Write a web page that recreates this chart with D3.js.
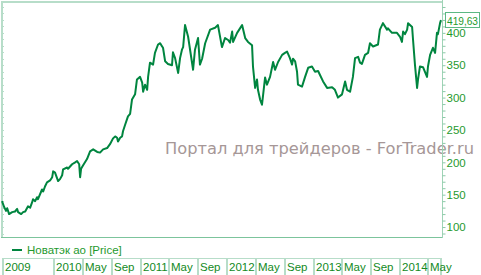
<!DOCTYPE html>
<html>
<head>
<meta charset="utf-8">
<script src="https://cdn.jsdelivr.net/npm/d3@7"></script>
<style>
  body { margin: 0; background: #fff; }
  svg { display: block; }
</style>
</head>
<body>
<div id="chart"></div>
<script>
// weekly-ish closes
const dates = [
  "2009-05-26","2009-06-04","2009-06-12","2009-06-17","2009-06-25","2009-07-08","2009-07-20","2009-07-29",
  "2009-08-02","2009-08-15","2009-08-23","2009-09-01","2009-09-13","2009-09-22","2009-09-30","2009-10-04",
  "2009-10-13","2009-10-21","2009-10-25","2009-11-11","2009-11-16","2009-11-24","2009-12-02","2009-12-15",
  "2009-12-24","2009-12-28","2010-01-05","2010-01-18","2010-01-26","2010-02-04","2010-02-08","2010-02-25",
  "2010-03-01","2010-03-18","2010-03-31","2010-04-08","2010-04-17","2010-04-21","2010-04-25","2010-05-03",
  "2010-05-20","2010-06-02","2010-06-15","2010-07-02","2010-07-14","2010-07-27","2010-08-13","2010-08-25",
  "2010-09-07","2010-09-16","2010-09-24","2010-09-28","2010-10-07","2010-10-15","2010-10-19","2010-10-28",
  "2010-11-09","2010-11-18","2010-11-26","2010-12-09","2010-12-17","2010-12-30","2011-01-08","2011-01-12",
  "2011-01-20","2011-01-29","2011-02-02","2011-02-10","2011-02-23","2011-03-03","2011-03-16","2011-03-25",
  "2011-04-02","2011-04-06","2011-04-15","2011-04-27","2011-05-14","2011-05-18","2011-05-27","2011-06-09",
  "2011-06-17","2011-06-25","2011-06-30","2011-07-08","2011-07-21","2011-08-11","2011-08-19","2011-09-01",
  "2011-09-09","2011-09-18","2011-10-01","2011-10-22","2011-11-12","2011-11-24","2011-12-11","2011-12-24",
  "2012-01-06","2012-01-14","2012-01-23","2012-01-27","2012-02-13","2012-03-05","2012-03-18","2012-03-30",
  "2012-04-16","2012-04-20","2012-04-29","2012-05-07","2012-05-11","2012-05-20","2012-05-28","2012-06-02",
  "2012-06-10","2012-06-18","2012-07-01","2012-07-14","2012-07-22","2012-08-04","2012-08-21","2012-09-02",
  "2012-09-11","2012-09-23","2012-10-02","2012-10-06","2012-10-15","2012-10-23","2012-10-27","2012-11-13",
  "2012-11-26","2012-12-09","2012-12-25","2013-01-07","2013-01-20","2013-01-28","2013-02-10","2013-02-27",
  "2013-03-20","2013-04-01","2013-04-14","2013-05-01","2013-05-14","2013-05-22","2013-06-04","2013-06-16",
  "2013-06-25","2013-07-08","2013-07-16","2013-07-24","2013-08-06","2013-08-19","2013-08-27","2013-09-09",
  "2013-09-30","2013-10-08","2013-10-21","2013-11-07","2013-11-11","2013-11-28","2013-12-19","2014-01-01",
  "2014-01-09","2014-01-14","2014-01-22","2014-01-31","2014-02-04","2014-02-21","2014-02-25","2014-03-05",
  "2014-03-14","2014-03-18","2014-03-26","2014-04-08","2014-04-25","2014-04-29","2014-05-08","2014-05-20",
  "2014-05-29","2014-06-06","2014-06-10","2014-06-19","2014-06-23"
];
const prices = [
  140,131,125,129,120,123,124,128,
  123,120,123,124,132,130,138,143,
  140,146,143,158,155,163,169,172,
  177,186,184,171,174,180,189,192,
  190,197,200,202,197,177,190,195,
  205,217,220,216,215,220,222,228,
  237,240,238,232,238,240,248,258,
  271,275,297,305,328,332,323,309,
  320,312,332,354,351,369,382,384,
  379,377,356,352,350,370,361,338,
  361,374,378,412,394,343,374,392,
  351,360,384,405,408,412,378,392,
  389,385,402,386,400,412,392,386,
  381,348,315,328,312,297,289,305,
  331,320,332,355,343,355,366,369,
  371,361,351,360,356,340,320,317,
  332,346,348,340,341,335,325,315,
  316,312,300,305,325,312,309,332,
  361,363,354,352,366,369,384,379,
  382,405,415,405,407,400,400,394,
  386,402,398,405,415,409,389,351,
  315,328,348,347,332,348,366,377,
  369,400,398,415,419.63
];
const startDate = "2009-05-26";
const endDate = "2014-06-23";
const firstTick = "2010-01-01";
const yMin = 84.6, yMax = 447.7;
const labelTicks = [100, 150, 200, 250, 300, 350, 400];
const lastValueLabel = "419,63";
const firstBoxLabel = "2009";
const seriesName = "Новатэк ао [Price]";
const watermark = "Портал для трейдеров - ForTrader.ru";

const width = 481, height = 275;
const plotLeft = 2, plotRight = 442, plotTop = 2, plotBottom = 237;
const lineColor = "#00853f", textGreen = "#1f9a2e", frameLight = "#b7ddc9", frameMid = "#7cc49c";

const parse = d3.timeParse("%Y-%m-%d");
const data = dates.map((d, i) => ({ date: parse(d), value: prices[i] }));

const x = d3.scaleTime().domain([parse(startDate), parse(endDate)]).range([plotLeft, 441]);
const y = d3.scaleLinear().domain([yMin, yMax]).range([plotBottom, plotTop]);

const svg = d3.select("#chart").append("svg")
  .attr("width", width).attr("height", height)
  .style("font-family", "'Liberation Sans', Arial, sans-serif");

// frame
svg.append("line").attr("x1", 1).attr("x2", plotRight).attr("y1", 2).attr("y2", 2)
  .attr("stroke", frameLight).attr("stroke-width", 2);
svg.append("line").attr("x1", 2).attr("x2", 2).attr("y1", 1).attr("y2", plotBottom)
  .attr("stroke", frameLight).attr("stroke-width", 2);
svg.append("line").attr("x1", 1).attr("x2", plotRight + 0.5).attr("y1", plotBottom + 0.5).attr("y2", plotBottom + 0.5)
  .attr("stroke", frameMid).attr("stroke-width", 1);

// watermark
svg.append("text")
  .attr("x", 165).attr("y", 154)
  .attr("font-family", "'DejaVu Sans', Verdana, sans-serif")
  .attr("font-size", 15.5)
  .attr("textLength", 309).attr("lengthAdjust", "spacingAndGlyphs")
  .attr("fill", "#a69797")
  .text(watermark);

// left inner minor ticks
const minor = d3.range(90, 450, 10);
svg.append("g").selectAll("line").data(minor).join("line")
  .attr("x1", 2).attr("x2", 4)
  .attr("y1", d => Math.round(y(d)) + 0.5).attr("y2", d => Math.round(y(d)) + 0.5)
  .attr("stroke", frameLight);

// right axis
const yAxis = d3.axisRight(y).tickValues(minor).tickSize(3)
  .tickFormat(d => labelTicks.includes(d) ? d : "");
const ga = svg.append("g").attr("transform", `translate(${plotRight + 0.5},0)`).call(yAxis);
ga.select(".domain").attr("stroke", "#9fd3b6").attr("d", `M0,0V${plotBottom + 1}`);
ga.selectAll(".tick line").attr("stroke", "#8ccaa8");
ga.selectAll(".tick text").attr("x", 4).attr("fill", textGreen)
  .attr("font-size", 11.5).attr("font-family", "'Liberation Sans', Arial, sans-serif");

// price line
svg.append("path").datum(data)
  .attr("fill", "none").attr("stroke", lineColor).attr("stroke-width", 2)
  .attr("stroke-linejoin", "round")
  .attr("d", d3.line().x(d => x(d.date)).y(d => y(d.value)));

// last value box
const last = data[data.length - 1];
const ly = y(last.value);
svg.append("rect").attr("x", 445.5).attr("y", Math.round(ly) - 7.5).attr("width", 34).attr("height", 15)
  .attr("fill", "#fff").attr("stroke", "#5cb884");
svg.append("text").attr("x", 447).attr("y", Math.round(ly) + 4.5)
  .attr("font-size", 11).attr("textLength", 31).attr("lengthAdjust", "spacingAndGlyphs")
  .attr("fill", textGreen).text(lastValueLabel);

// legend
svg.append("line").attr("x1", 12).attr("x2", 22).attr("y1", 250).attr("y2", 250)
  .attr("stroke", lineColor).attr("stroke-width", 2);
svg.append("text").attr("x", 27).attr("y", 254).attr("font-size", 11.5)
  .attr("fill", textGreen).text(seriesName);

// time band
const bandTop = 258;
svg.append("line").attr("x1", 2).attr("x2", 441).attr("y1", bandTop + 0.5).attr("y2", bandTop + 0.5)
  .attr("stroke", frameLight);
const ticks = d3.timeMonth.every(4).range(parse(firstTick), x.domain()[1]);
const fmt = d => d.getMonth() === 0 ? d3.timeFormat("%Y")(d) : d3.timeFormat("%b")(d);
const seps = [{ px: 3, label: firstBoxLabel }]
  .concat(ticks.map(t => ({ px: Math.round(x(t)), label: fmt(t) })));
const gb = svg.append("g");
gb.selectAll("rect.sep").data(seps.map(s => s.px).concat([441])).join("rect")
  .attr("class", "sep")
  .attr("x", d => d - 1).attr("y", bandTop).attr("width", 2).attr("height", height - bandTop)
  .attr("fill", frameLight);
gb.selectAll("text").data(seps).join("text")
  .attr("x", d => d.px + 2).attr("y", 271)
  .attr("font-size", 11.5).attr("fill", "#138a24")
  .text(d => d.label);
</script>
</body>
</html>
